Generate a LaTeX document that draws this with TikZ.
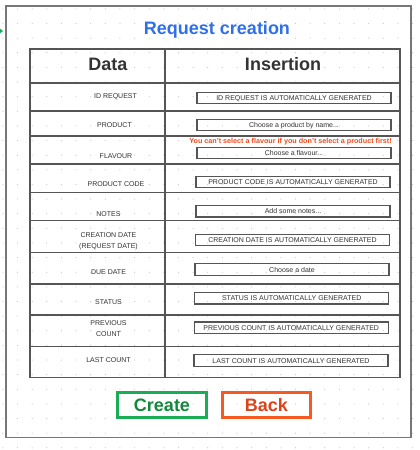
\documentclass[tikz,border=0pt]{standalone}
\usepackage{xcolor}
\usepackage{fontspec}
\setmainfont{Liberation Sans}
\usetikzlibrary{arrows.meta, positioning}
\definecolor{titleblue}{HTML}{2F6FEA}
\definecolor{inkgray}{HTML}{333333}
\definecolor{linegray}{HTML}{555555}
\definecolor{framegray}{HTML}{777777}
\definecolor{dotgray}{HTML}{C8C8C8}
\definecolor{warnred}{HTML}{F04A1E}
\definecolor{creategreen}{HTML}{1AAD55}
\definecolor{createtext}{HTML}{14873C}
\definecolor{backorange}{HTML}{F55A22}
\definecolor{backtext}{HTML}{D9441A}
\tikzset{
  titlenode/.style={font=\fontsize{18}{20}\selectfont\bfseries, text=titleblue, inner sep=0pt},
  headnode/.style={font=\fontsize{18}{20}\selectfont\bfseries, text=inkgray, inner sep=0pt},
  labelnode/.style={font=\fontsize{7}{10.7}\selectfont, text=inkgray, align=center, inner sep=0pt},
  fieldnode/.style={draw=linegray, line width=1.2pt, minimum width=194pt, minimum height=11.3pt, inner sep=0pt, text height=5.1pt, text depth=0pt, font=\fontsize{7}{8}\selectfont, text=inkgray},
  warnnode/.style={font=\fontsize{7.2}{8}\selectfont\bfseries, text=warnred, inner sep=0pt, text height=5.2pt, text depth=0pt},
  createbutton/.style={draw=creategreen, line width=3pt, minimum width=89pt, minimum height=25.6pt, font=\fontsize{18}{20}\selectfont\bfseries, text=createtext},
  backbutton/.style={draw=backorange, line width=3pt, minimum width=88.6pt, minimum height=25.6pt, font=\fontsize{18}{20}\selectfont\bfseries, text=backtext},
  gridline/.style={draw=linegray, line width=1.2pt},
  linkarrow/.style={-{Triangle[length=4pt, width=6pt]}, draw=creategreen, line width=1.5pt}
}

\begin{document}
\begin{tikzpicture}[x=1pt, y=-1pt]

\useasboundingbox[fill=white] (0,0) rectangle (420,450);

% Background dots
\foreach \i in {0,...,28}
  \foreach \j in {0,...,30}
    \fill[dotgray] ({2.9+14.63*\i},{8.9+14.63*\j}) circle (0.6pt);

% Frame and table
\draw[framegray, line width=1.5pt] (6,6) rectangle (411,437.5);
\draw[gridline] (30,49) rectangle (400,377.7);
\draw[gridline] (165,49) -- (165,377.7);
\foreach \y in {83,111,136,164,192.7,220.7,252.7,284,315,346.7}
  \draw[gridline] (30,\y) -- (400,\y);

% Link from outside
\coordinate (linkstart) at (-12,31);
\coordinate (linkend) at (3,31);
\draw[linkarrow] (linkstart) -- (linkend);

% Title and headers
\node[titlenode, anchor=base] (title) at (217,34.3) {Request creation};
\node[headnode, anchor=base] (data) at (108,70.7) {Data};
\node[headnode, anchor=base] (insertion) at (283,70.7) {Insertion};

% Labels
\node[labelnode] (idrequest) at (115.5,97) {ID REQUEST};
\node[labelnode] (product) at (114.5,125) {PRODUCT};
\node[labelnode] (flavour) at (116,155.7) {FLAVOUR};
\node[labelnode] (productcode) at (116,184) {PRODUCT CODE};
\node[labelnode] (notes) at (108.5,214) {NOTES};
\node[labelnode] (creationdate) at (108.5,241.5) {CREATION DATE\\(REQUEST DATE)};
\node[labelnode] (duedate) at (108.5,272) {DUE DATE};
\node[labelnode] (status) at (108.5,301.7) {STATUS};
\node[labelnode] (previouscount) at (108.5,328.5) {PREVIOUS\\COUNT};
\node[labelnode] (lastcount) at (108.5,360) {LAST COUNT};

% Fields
\node[fieldnode] (idfield) at (294,98) {ID REQUEST IS AUTOMATICALLY GENERATED};
\node[fieldnode] (productfield) at (294,125) {Choose a product by name...};
\node[warnnode] (flavourwarn) at (290.5,140.5) {You can't select a flavour if you don't select a product first!};
\node[fieldnode] (flavourfield) at (294,153) {Choose a flavour...};
\node[fieldnode] (codefield) at (293,182) {PRODUCT CODE IS AUTOMATICALLY GENERATED};
\node[fieldnode] (notesfield) at (293,211.3) {Add some notes...};
\node[fieldnode] (creationfield) at (292.5,240.2) {CREATION DATE IS AUTOMATICALLY GENERATED};
\node[fieldnode] (duefield) at (292,269.5) {Choose a date};
\node[fieldnode] (statusfield) at (291.7,298.3) {STATUS IS AUTOMATICALLY GENERATED};
\node[fieldnode] (previousfield) at (291.2,327.7) {PREVIOUS COUNT IS AUTOMATICALLY GENERATED};
\node[fieldnode] (lastfield) at (291,360.5) {LAST COUNT IS AUTOMATICALLY GENERATED};

% Buttons
\node[createbutton] (create) at (162,405) {Create};
\node[backbutton, right=12.7pt of create] (back) {Back};

\end{tikzpicture}
\end{document}
